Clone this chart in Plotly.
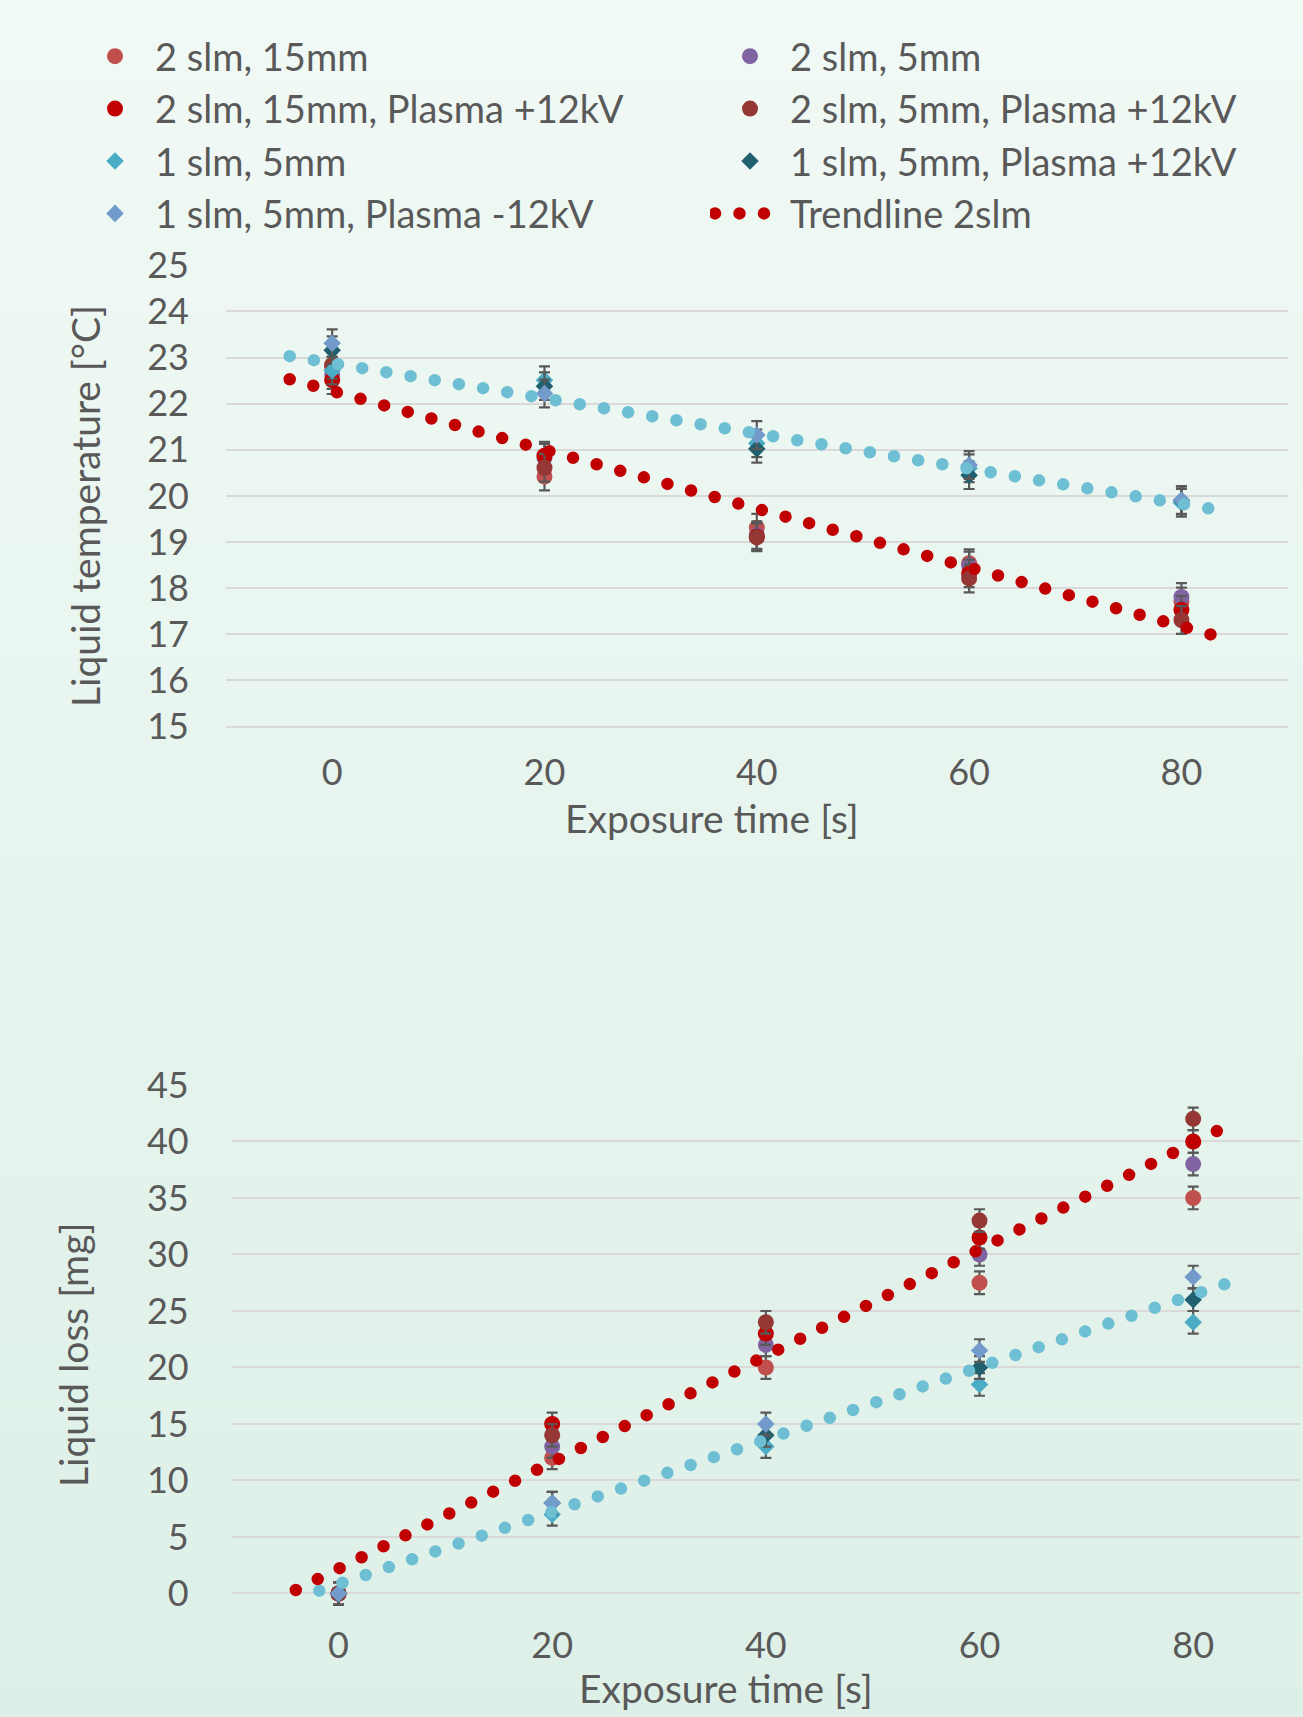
import plotly.graph_objects as go

# ---------------- data ----------------
time_s = [0, 20, 40, 60, 80]
x_ticks = [0, 20, 40, 60, 80]
temp_ticks = [15, 16, 17, 18, 19, 20, 21, 22, 23, 24, 25]
loss_ticks = [0, 5, 10, 15, 20, 25, 30, 35, 40, 45]

# Liquid temperature [°C]
temp_2slm_15mm = [22.80, 20.42, 19.31, 18.54, 17.71]
temp_2slm_5mm = [22.62, 20.83, 19.15, 18.49, 17.81]
temp_2slm_15mm_p12 = [22.51, 20.87, 19.12, 18.32, 17.53]
temp_2slm_5mm_p12 = [22.84, 20.61, 19.10, 18.21, 17.31]
temp_1slm_5mm = [22.72, 22.51, 21.14, 20.60, 19.85]
temp_1slm_5mm_p12 = [23.16, 22.38, 21.02, 20.45, 19.90]
temp_1slm_5mm_m12 = [23.31, 22.22, 21.32, 20.67, 19.91]
temp_err = [0.3, 0.3, 0.3, 0.3, 0.3]

# Liquid loss [mg]
loss_2slm_15mm = [0, 12, 20, 27.5, 35]
loss_2slm_5mm = [0, 13, 22, 30, 38]
loss_2slm_15mm_p12 = [0, 15, 23, 31.5, 40]
loss_2slm_5mm_p12 = [0, 14, 24, 33, 42]
loss_1slm_5mm = [0, 7, 13, 18.5, 24]
loss_1slm_5mm_p12 = [0, 8, 14, 20, 26]
loss_1slm_5mm_m12 = [0, 8, 15, 21.5, 28]
loss_err = [1, 1, 1, 1, 1]

# trendline end points
trend2_temp_x = [-4.0, 83.0]
trend2_temp_y = [22.53, 16.98]
trend1_temp_x = [-4.0, 82.8]
trend1_temp_y = [23.03, 19.72]
trend2_loss_x = [-4.0, 82.5]
trend2_loss_y = [0.31, 41.05]
trend1_loss_x = [-1.8, 83.2]
trend1_loss_y = [0.25, 27.45]

# ---------------- styling ----------------
W, H = 1303, 1717
FONT = "Lato"
GREY = "#595959"

series = [
    # name, temp, loss, color, symbol, legend
    ("2 slm, 15mm", temp_2slm_15mm, loss_2slm_15mm, "#c0504d", "circle", "legend"),
    ("2 slm, 5mm", temp_2slm_5mm, loss_2slm_5mm, "#8064a2", "circle", "legend2"),
    ("2 slm, 15mm, Plasma +12kV", temp_2slm_15mm_p12, loss_2slm_15mm_p12, "#c00000", "circle", "legend"),
    ("2 slm, 5mm, Plasma +12kV", temp_2slm_5mm_p12, loss_2slm_5mm_p12, "#953735", "circle", "legend2"),
    ("1 slm, 5mm", temp_1slm_5mm, loss_1slm_5mm, "#4bacc6", "diamond", "legend"),
    ("1 slm, 5mm, Plasma +12kV", temp_1slm_5mm_p12, loss_1slm_5mm_p12, "#21616f", "diamond", "legend2"),
    ("1 slm, 5mm, Plasma -12kV", temp_1slm_5mm_m12, loss_1slm_5mm_m12, "#729aca", "diamond", "legend"),
]

fig = go.Figure()

def add_series(kind, errs, xa, ya, show):
    for name, t, l, color, sym, leg in series:
        vals = t if kind == "temp" else l
        fig.add_trace(go.Scatter(
            x=time_s, y=vals, name=name, mode="markers",
            xaxis=xa, yaxis=ya, legend=leg, showlegend=show,
            legendgroup=name,
            marker=dict(color=color, symbol=sym, size=16 if sym == "circle" else 13.5,
                        line=dict(width=0)),
            error_y=dict(type="data", array=errs, color=GREY, thickness=2.2, width=5.5),
            hoverinfo="x+y",
        ))

TREND_RED = "#c00000"
TREND_CYAN = "#6ebfd4"
DASH = "0px,24.5px"

add_series("temp", temp_err, "x", "y", True)
fig.add_trace(go.Scatter(x=trend1_temp_x, y=trend1_temp_y, mode="lines", xaxis="x", yaxis="y",
                         line=dict(color=TREND_CYAN, width=12.5, dash=DASH), showlegend=False,
                         name="Trendline 1slm"))
fig.add_trace(go.Scatter(x=trend2_temp_x, y=trend2_temp_y, mode="lines", xaxis="x", yaxis="y",
                         line=dict(color=TREND_RED, width=12.5, dash=DASH), showlegend=True,
                         legend="legend2", legendgroup="trend", name="Trendline 2slm"))

add_series("loss", loss_err, "x2", "y2", False)
fig.add_trace(go.Scatter(x=trend1_loss_x, y=trend1_loss_y, mode="lines", xaxis="x2", yaxis="y2",
                         line=dict(color=TREND_CYAN, width=12.5, dash=DASH), showlegend=False,
                         name="Trendline 1slm"))
fig.add_trace(go.Scatter(x=trend2_loss_x, y=trend2_loss_y, mode="lines", xaxis="x2", yaxis="y2",
                         line=dict(color=TREND_RED, width=12.5, dash=DASH), showlegend=False,
                         name="Trendline 2slm"))

# ---------------- background gradient ----------------
top_rgb = (241, 249, 245)
bot_rgb = (221, 240, 231)
nb = 60
shapes = []
for i in range(nb):
    f = (i + 0.5) / nb
    c = tuple(round(top_rgb[k] + (bot_rgb[k] - top_rgb[k]) * f) for k in range(3))
    shapes.append(dict(type="rect", xref="paper", yref="paper", x0=0, x1=1,
                       y0=1 - (i + 1) / nb - 0.001, y1=1 - i / nb,
                       fillcolor="rgb(%d,%d,%d)" % c, line=dict(width=0), layer="below"))

tickfont = dict(family=FONT, size=36, color=GREY)
axis_common = dict(showline=False, zeroline=False, ticks="", tickfont=tickfont, automargin=False)

def px_x(p):
    return p / W

def px_y(p):
    return 1 - p / H

# pixel geometry of the two plot areas
T_TOP, T_BOT = 264.38, 748.0       # top chart (25.02 .. 14.534)
B_TOP, B_BOT = 1084.4, 1620.5      # bottom chart (45.05 .. -2.39)

legend_font = dict(family=FONT, size=38, color=GREY)

fig.update_layout(
    width=W, height=H, autosize=False,
    margin=dict(l=0, r=0, t=0, b=0, pad=0),
    paper_bgcolor="rgb(231,244,238)", plot_bgcolor="rgba(0,0,0,0)",
    font=dict(family=FONT, color=GREY),
    shapes=shapes,
    xaxis=dict(domain=[px_x(226), px_x(1287.6)], anchor="y", range=[-10, 90],
               tickvals=x_ticks, showgrid=False, ticklabelstandoff=0, **axis_common),
    yaxis=dict(domain=[px_y(T_BOT), px_y(T_TOP)], anchor="x", range=[14.534, 25.02],
               tickvals=temp_ticks, showgrid=True, gridcolor="#d9d9d9", gridwidth=2,
               ticklabelstandoff=36, **axis_common),
    xaxis2=dict(domain=[px_x(231.7), px_x(1300)], anchor="y2", range=[-10, 90],
                tickvals=x_ticks, showgrid=False, ticklabelstandoff=0, **axis_common),
    yaxis2=dict(domain=[px_y(B_BOT), px_y(B_TOP)], anchor="x2", range=[-2.39, 45.05],
                tickvals=loss_ticks, showgrid=True, gridcolor="#d9d9d9", gridwidth=2,
                ticklabelstandoff=42, **axis_common),
    legend=dict(x=px_x(75), y=px_y(25), xanchor="left", yanchor="top",
                bgcolor="rgba(0,0,0,0)", borderwidth=0, itemwidth=70,
                font=legend_font, tracegroupgap=0),
    legend2=dict(x=px_x(710), y=px_y(25), xanchor="left", yanchor="top",
                 bgcolor="rgba(0,0,0,0)", borderwidth=0, itemwidth=70,
                 font=legend_font, tracegroupgap=0),
    annotations=[
        dict(text="Exposure time [s]", xref="paper", yref="paper", x=px_x(711.7), y=px_y(818),
             xanchor="center", yanchor="middle", showarrow=False,
             font=dict(family=FONT, size=39, color=GREY)),
        dict(text="Exposure time [s]", xref="paper", yref="paper", x=px_x(726), y=px_y(1688),
             xanchor="center", yanchor="middle", showarrow=False,
             font=dict(family=FONT, size=39, color=GREY)),
        dict(text="Liquid temperature [°C]", xref="paper", yref="paper", x=px_x(85), y=px_y(506),
             xanchor="center", yanchor="middle", showarrow=False, textangle=-90,
             font=dict(family=FONT, size=39, color=GREY)),
        dict(text="Liquid loss [mg]", xref="paper", yref="paper", x=px_x(73), y=px_y(1355),
             xanchor="center", yanchor="middle", showarrow=False, textangle=-90,
             font=dict(family=FONT, size=39, color=GREY)),
    ],
)

post = """
document.body.style.margin = '0';
document.body.style.padding = '0';
document.documentElement.style.overflow = 'hidden';
var gd = document.getElementById('{plot_id}');
function roundCaps(){
  gd.querySelectorAll('path.js-line').forEach(function(p){
    p.style.strokeLinecap = 'round';
  });
  gd.querySelectorAll('.legendlines path.js-line').forEach(function(p){
    p.style.strokeWidth = '12.5px';
    p.style.strokeDasharray = '0px,24.5px';
  });
}
roundCaps();
gd.on('plotly_afterplot', roundCaps);
"""

fig.write_html("out.html", post_script=post, config={"displayModeBar": False, "responsive": False})
